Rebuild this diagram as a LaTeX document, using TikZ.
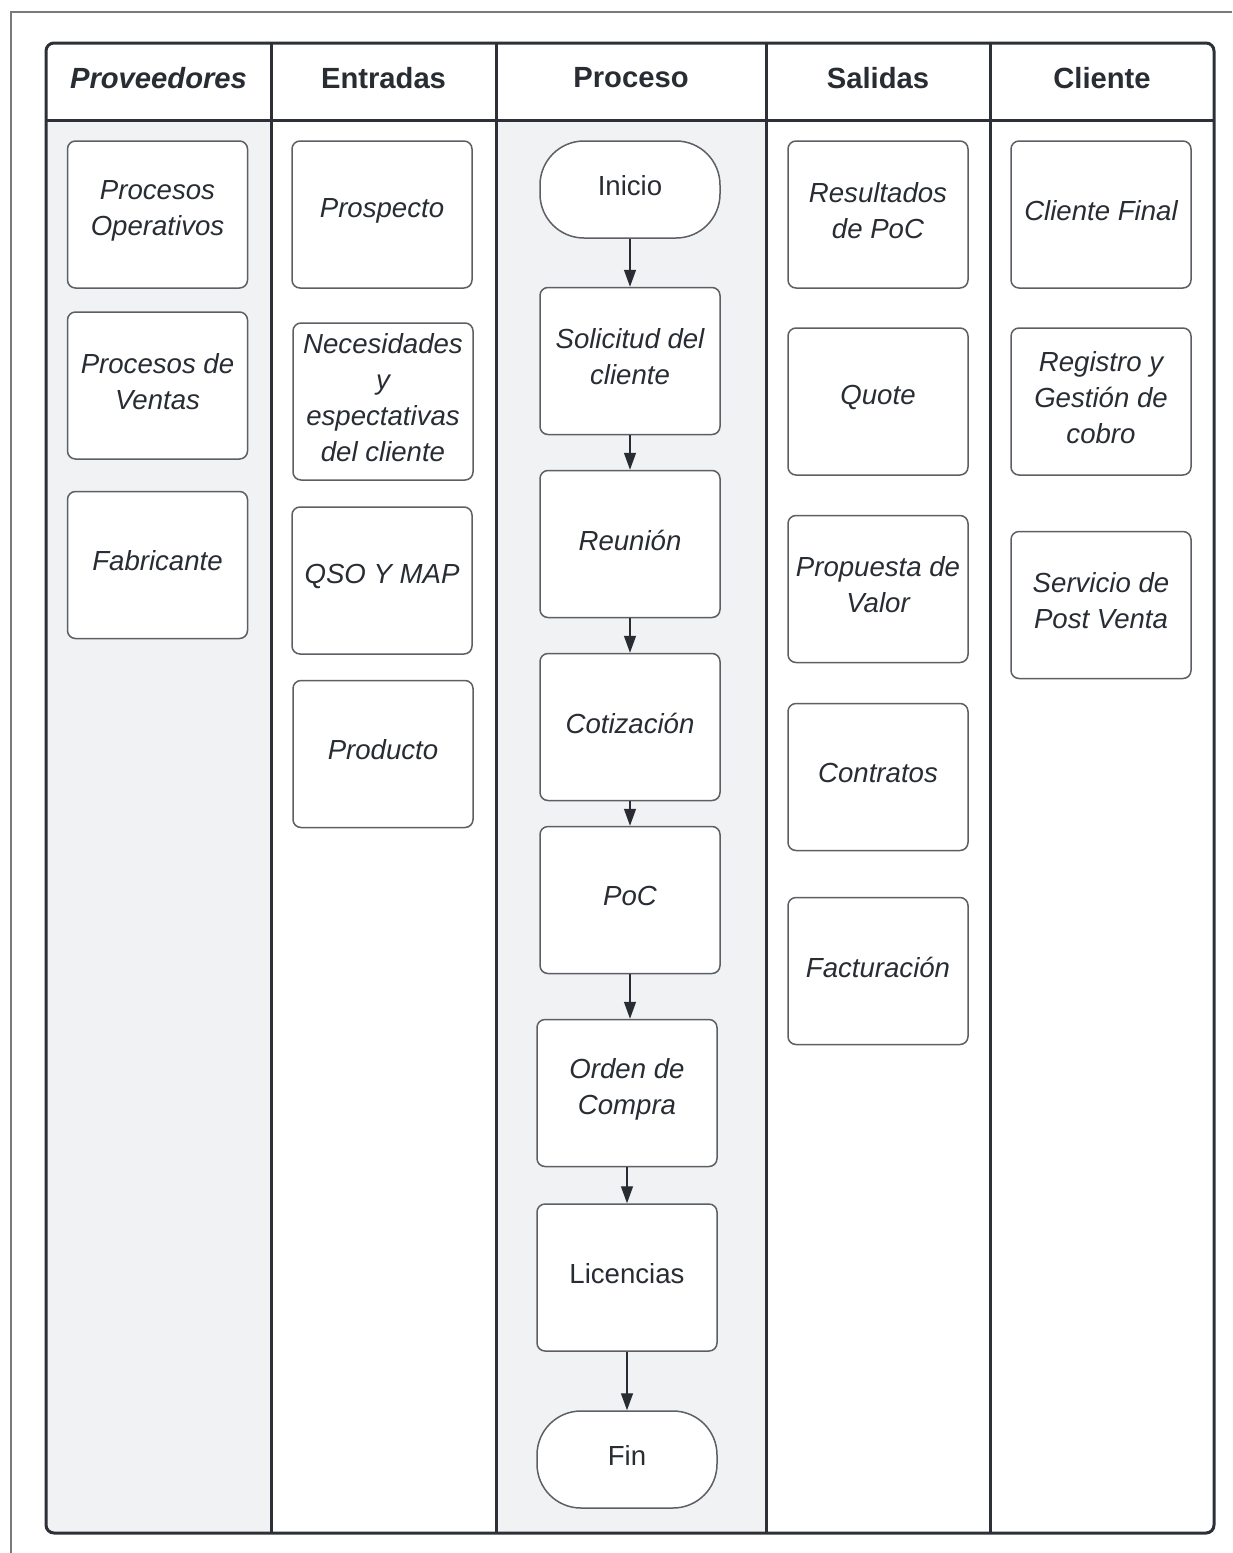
\documentclass[tikz,border=0pt]{standalone}
\usepackage{fontspec}
\setmainfont{Liberation Sans}
\usetikzlibrary{arrows.meta}
\definecolor{ink}{HTML}{282C33}
\definecolor{laneline}{HTML}{2D3036}
\definecolor{boxline}{HTML}{5C5F64}
\definecolor{lanefill}{HTML}{F1F2F4}
\definecolor{framegray}{HTML}{7A7A7A}
% a box (#2 = name, #3 = centre) whose text sits slightly above its centre
\newcommand\cardbox[4][]{%
  \node[card,#1] (#2) at (#3) {};
  \node[lbl,#1,draw=none,fill=none,minimum width=0pt,minimum height=0pt] (#2-text) at ([yshift=2pt]#2.center) {#4};}
\begin{document}
\begin{tikzpicture}[x=0.5pt,y=-0.5pt,
  lbl/.style={font=\fontsize{13.8pt}{18pt}\selectfont\itshape, text=ink, align=center},
  upright/.style={font=\fontsize{13.8pt}{18pt}\selectfont},
  head/.style={font=\fontsize{14.6pt}{18pt}\selectfont\bfseries, text=ink, align=center},
  card/.style={draw=boxline, line width=0.75pt, fill=white, rounded corners=4pt,
               minimum width=90pt, minimum height=73.5pt, inner sep=0pt},
  term/.style={upright, rounded corners=22pt, minimum height=48.5pt},
  flow/.style={draw=ink, line width=0.7pt, -{Triangle[width=6pt,length=8.5pt]}}]
\useasboundingbox (0,0) rectangle (1232,1553);
\fill[white] (0,0) rectangle (1232,1553);
% outer frame
\draw[framegray, line width=1pt] (11,1553) -- (11,12) -- (1232,12);
% shaded lanes
\fill[lanefill] (46,120) -- (46,1525) arc[start angle=180,end angle=270,radius=4pt] -- (271,1533) -- (271,120) -- cycle;
\fill[lanefill] (496,120) rectangle (766,1533);
% table lines
\draw[laneline, line width=1.5pt, rounded corners=4pt] (46,43) rectangle (1214,1533);
\draw[laneline, line width=1.5pt] (46,120) -- (1214,120);
\foreach \xx in {271,496,766,990} \draw[laneline, line width=1.5pt] (\xx,43) -- (\xx,1533);
% headers
\node[head] (hprov) at (158.5,78) {\itshape Proveedores};
\node[head] (hent) at (383.5,78) {Entradas};
\node[head] (hproc) at (631,78) {Proceso};
\node[head] (hsal) at (878,78) {Salidas};
\node[head] (hcli) at (1102,78) {Cliente};
% Proveedores
\cardbox{po}{157.5,214.5}{Procesos\\Operativos}
\cardbox{pv}{157.5,385.5}{Procesos de\\Ventas}
\cardbox{fab}{157.5,565}{Fabricante}
% Entradas
\cardbox{pros}{382,214.5}{Prospecto}
\cardbox[minimum height=78.5pt]{nec}{383,401.5}{Necesidades\\y\\espectativas\\del cliente}
\cardbox{qso}{382,580.5}{QSO Y MAP}
\cardbox{prod}{383,754}{Producto}
% Proceso
\cardbox[term]{ini}{630,189.5}{Inicio}
\cardbox{sol}{630,361}{Solicitud del\\cliente}
\cardbox{reu}{630,544}{Reunión}
\cardbox{cot}{630,727}{Cotización}
\cardbox{poc}{630,900}{PoC}
\cardbox{ord}{627,1093}{Orden de\\Compra}
\cardbox[upright]{lic}{627,1277.5}{Licencias}
\cardbox[term]{fin}{627,1459.5}{Fin}
% Salidas
\cardbox{res}{878,214.5}{Resultados\\de PoC}
\cardbox{quo}{878,401.5}{Quote}
\cardbox{pva}{878,589}{Propuesta de\\Valor}
\cardbox{con}{878,777}{Contratos}
\cardbox{fac}{878,971}{Facturación}
% Cliente
\cardbox{cf}{1101,214.5}{Cliente Final}
\cardbox{reg}{1101,401.5}{Registro y\\Gestión de\\cobro}
\cardbox{spv}{1101,605}{Servicio de\\Post Venta}
% process flow
\draw[flow] (ini.south) -- (sol.north);
\draw[flow] (sol.south) -- (reu.north);
\draw[flow] (reu.south) -- (cot.north);
\draw[flow] (cot.south) -- (poc.north);
\draw[flow] (poc.south) -- (poc.south |- ord.north);
\draw[flow] (ord.south) -- (lic.north);
\draw[flow] (lic.south) -- (fin.north);
\end{tikzpicture}
\end{document}
